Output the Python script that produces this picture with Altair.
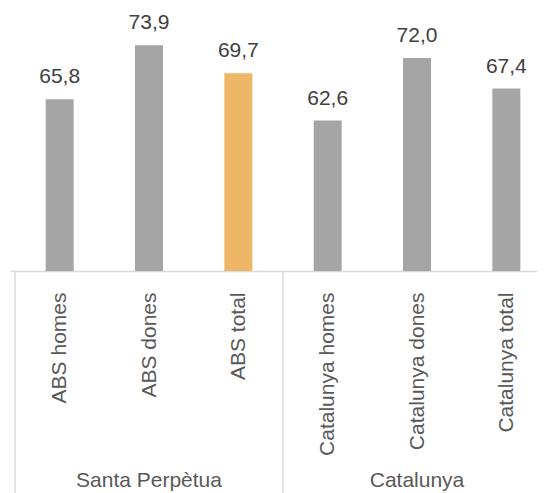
import json
import altair as alt
import pandas as pd

categories = ["ABS homes", "ABS dones", "ABS total",
              "Catalunya homes", "Catalunya dones", "Catalunya total"]
values = [65.8, 73.9, 69.7, 62.6, 72.0, 67.4]
groups = ["Santa Perpètua", "Catalunya"]
group_sizes = [3, 3]
highlight = "ABS total"

bars = pd.DataFrame({
    "idx": list(range(len(categories))),
    "cat": categories,
    "value": values,
    "label": [f"{v:.1f}".replace(".", ",") for v in values],
    "hl": [c == highlight for c in categories],
})

# group boundaries and centres (in category-index units)
bounds = [-0.5]
centres = []
start = 0
for n in group_sizes:
    centres.append(start + (n - 1) / 2)
    start += n
    bounds.append(start - 0.5)
sep = pd.DataFrame({"pos": bounds})
grp = pd.DataFrame({"pos": centres, "name": groups})

W, H = 527, 263
FONT = "Liberation Sans"

xscale = alt.Scale(domain=[-0.5, len(categories) - 0.5], range=[0, 546], nice=False, zero=False)
yscale = alt.Scale(domain=[40, 79.5], nice=False, zero=False)

label_expr = f"{json.dumps(categories)}[datum.value]"

base = alt.Chart(bars)

bar = base.mark_bar(size=28).encode(
    x=alt.X("idx:Q", scale=xscale, title=None,
            axis=alt.Axis(values=list(range(len(categories))), labelExpr=label_expr,
                          labelAngle=270, labelAlign="right", labelBaseline="middle",
                          labelFont=FONT, labelFontSize=21, labelColor="#595959",
                          labelPadding=21, ticks=False, tickSize=0, grid=False,
                          domainColor="#d9d9d9", domainWidth=1.5,
                          labelOverlap=False, labelBound=False, labelFlush=False)),
    y=alt.Y("value:Q", scale=yscale, axis=None),
    y2=alt.datum(40),
    color=alt.Color("hl:N", scale=alt.Scale(domain=[False, True], range=["#a5a5a5", "#eeb767"]), legend=None),
)

txt = base.mark_text(font=FONT, fontSize=21, color="#404040", baseline="alphabetic", dy=-16).encode(
    x=alt.X("idx:Q", scale=xscale),
    y=alt.Y("value:Q", scale=yscale),
    text="label:N",
)

rules = alt.Chart(sep).mark_rule(color="#d9d9d9", strokeWidth=1.5).encode(
    x=alt.X("pos:Q", scale=xscale),
    y=alt.value(H),
    y2=alt.value(H + 240),
)

glab = alt.Chart(grp).mark_text(font=FONT, fontSize=21, color="#595959", baseline="alphabetic").encode(
    x=alt.X("pos:Q", scale=xscale),
    y=alt.value(H + 216),
    text="name:N",
)

chart = alt.layer(bar, txt, rules, glab).properties(
    width=W, height=H,
    autosize=alt.AutoSizeParams(type="none"),
    padding={"left": 2, "top": 0, "right": 0, "bottom": 222},
).configure_view(stroke=None)

chart.save("out.html", embed_options={"renderer": "svg", "actions": False})
